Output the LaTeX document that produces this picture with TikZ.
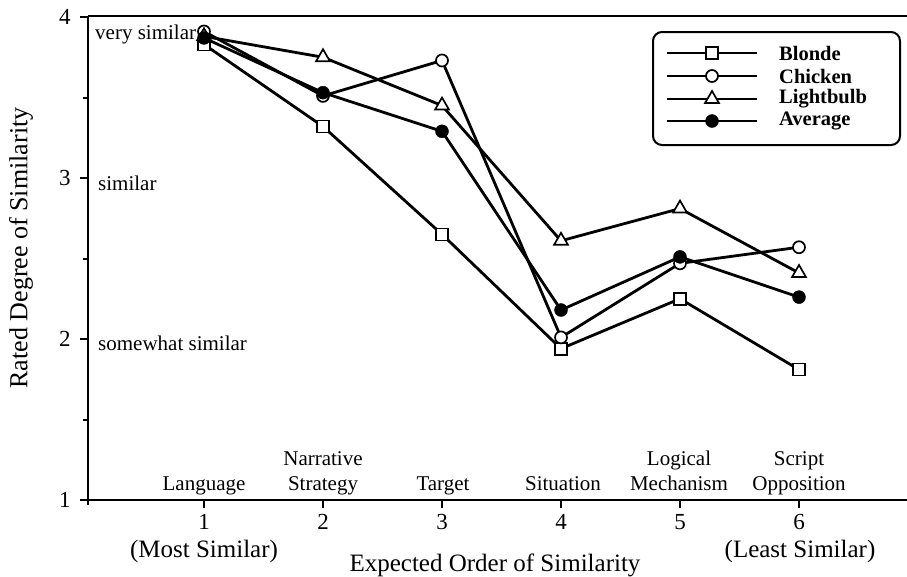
\documentclass[tikz,border=0pt]{standalone}
\usepackage{fontspec}
\setmainfont{Liberation Serif}
\usetikzlibrary{shapes.geometric}
\pgfdeclarelayer{bg}
\pgfsetlayers{bg,main}
\tikzset{
  sq/.style={draw, rectangle, minimum size=12pt, inner sep=0pt, line width=1.7pt, fill=white},
  ci/.style={draw, circle, minimum size=12pt, inner sep=0pt, line width=1.7pt, fill=white},
  tri/.style={draw, regular polygon, regular polygon sides=3, minimum size=16pt, inner sep=0pt, line width=1.7pt, fill=white},
  av/.style={circle, fill=black, draw=black, minimum size=13pt, inner sep=0pt},
  dline/.style={line width=2.8pt, line join=round},
  axisline/.style={line width=2.6pt},
  tickline/.style={line width=2pt},
  small/.style={font=\fontsize{21}{23}\selectfont, inner sep=0pt},
  leg/.style={font=\fontsize{20.5}{23}\selectfont\bfseries, inner sep=0pt},
  big/.style={font=\fontsize{25}{27}\selectfont, inner sep=0pt},
  num/.style={font=\fontsize{23}{25}\selectfont, inner sep=0pt},
  cat/.style={font=\fontsize{21}{25}\selectfont, inner sep=0pt, align=center, anchor=base},
}
\begin{document}
\begin{tikzpicture}[x=1pt,y=-1pt]
\useasboundingbox (0,0) rectangle (907,576);
% axes
\coordinate (tl) at (88,16);
\coordinate (tr) at (907,16);
\coordinate (bl) at (88,505);
\coordinate (o) at (88,500);
\coordinate (xr) at (907,500);
\draw[line width=2pt] (tl) -- (tr);
\draw[axisline] (tl) -- (bl);
\draw[axisline] (o) -- (xr);
\begin{scope}[shift={(85,661)}, x=119pt, y=161pt]
  % y ticks
  \foreach \v in {1,2,3,4} {
    \draw[tickline] (0.03,\v) -- (-0.04,\v);
    \node[num, anchor=east] (yl\v) at (-0.12,\v) {\v};
  }
  \foreach \v in {1.5,2.5,3.5} \draw[tickline] (0.03,\v) -- (-0.02,\v);
  % x ticks
  \foreach \i in {1,...,6} {
    \draw[tickline] (\i,1) -- (\i,0.95);
    \node[num] (xl\i) at (\i,0.863) {\i};
  }
  % data nodes
  \foreach \i/\v in {1/3.83,2/3.32,3/2.65,4/1.94,5/2.25,6/1.81}
    \node[sq] (b\i) at (\i,\v) {};
  \foreach \i/\v in {1/3.91,2/3.51,3/3.73,4/2.01,5/2.47,6/2.57}
    \node[ci] (c\i) at (\i,\v) {};
  \foreach \i/\v in {1/3.88,2/3.75,3/3.45,4/2.61,5/2.81,6/2.41}
    \node[tri] (l\i) at (\i,\v) {};
  \foreach \i/\v in {1/3.87,2/3.53,3/3.29,4/2.18,5/2.51,6/2.26}
    \node[av] (a\i) at (\i,\v) {};
\end{scope}
\begin{pgfonlayer}{bg}
  \foreach \s in {b,c,l,a} {
    \draw[dline] (\s1.center) -- (\s2.center) -- (\s3.center) -- (\s4.center) -- (\s5.center) -- (\s6.center);
  }
\end{pgfonlayer}
% y labels inside
\node[small, anchor=west] (vs) at (95,34) {very similar};
\node[small, anchor=west] (si) at (98,183) {similar};
\node[small, anchor=west] (sw) at (98,343) {somewhat similar};
% categories (anchored at last-line baseline)
\node[cat] (k1) at (204,490) {Language};
\node[cat] (k2) at (323,490) {Narrative\\Strategy};
\node[cat] (k3) at (443,490) {Target};
\node[cat] (k4) at (563,490) {Situation};
\node[cat] (k5) at (679,490) {Logical\\Mechanism};
\node[cat] (k6) at (799,490) {Script\\Opposition};
% axis titles
\node[big] (most) at (204,551) {(Most Similar)};
\node[big] (least) at (800,551) {(Least Similar)};
\node[big] (xt) at (495,565) {Expected Order of Similarity};
\node[font=\fontsize{26}{28}\selectfont, inner sep=0pt, rotate=90] (yt) at (21,248) {Rated Degree of Similarity};
% legend
\draw[line width=2pt, rounded corners=9pt] (653,32) rectangle (900,145);
\foreach \n/\y/\st/\t in {lb/53/sq/Blonde, lc/76/ci/Chicken, ll/99/tri/Lightbulb, la/121/av/Average} {
  \coordinate (\n s) at (667,\y);
  \coordinate (\n e) at (757,\y);
  \draw[dline] (\n s) -- (\n e);
  \node[\st] (\n m) at (712,\y) {};
  \node[leg, anchor=west] (\n t) at (779,\y) {\t};
}
\end{tikzpicture}
\end{document}
